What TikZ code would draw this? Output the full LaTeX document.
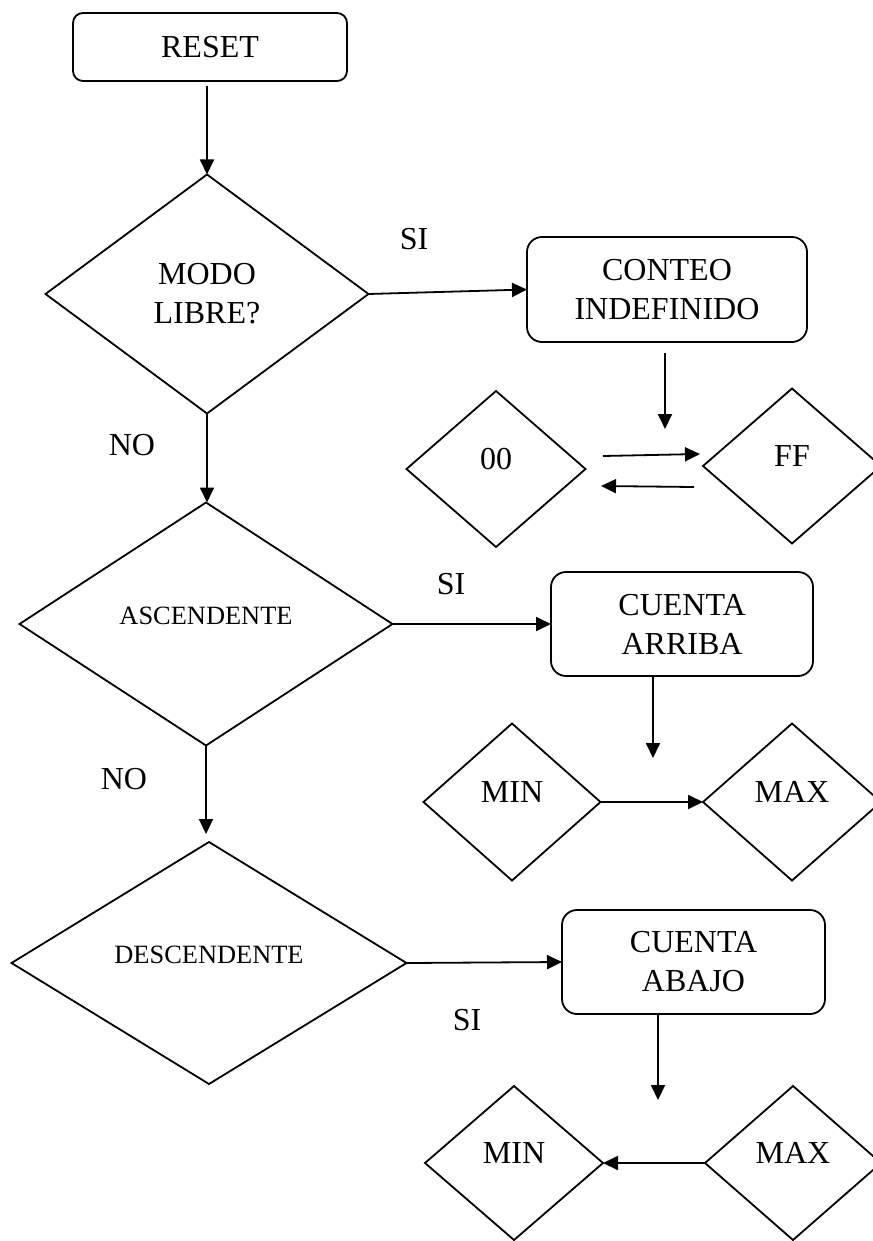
\documentclass[tikz,border=0pt]{standalone}
\usepackage{fontspec}
\setmainfont{Liberation Serif}
\usetikzlibrary{arrows.meta,shapes.geometric}

\begin{document}
\begin{tikzpicture}[x=0.5pt,y=-0.5pt,font=\fontsize{16pt}{19.5pt}\selectfont]
\tikzset{
  caja/.style={draw,line width=0.9pt,rounded corners=7.5pt,align=center,
    inner sep=0pt,outer sep=0pt},
  rombo/.style={draw,diamond,line width=0.9pt,inner sep=0pt,outer sep=0pt},
  plano/.style={text height=0pt,text depth=0pt},
  fl/.style={-{Triangle[length=7.5pt,width=7pt]},line width=0.9pt},
  etq/.style={inner sep=0pt}
}
\useasboundingbox (0,0) rectangle (872,1241);
\fill[white] (0,0) rectangle (872,1241);

% columna de decisiones
\node[caja,rounded corners=5pt,minimum width=137pt,minimum height=34pt] (reset) at (210,47) {RESET};
\node[rombo,align=center,minimum width=161.5pt,minimum height=119.5pt] (modo) at (207,294) {MODO\\LIBRE?};
\node[rombo,plano,font=\fontsize{13.2pt}{15pt}\selectfont,minimum width=186.5pt,minimum height=121.5pt] (asc) at (206,624) {ASCENDENTE};
\node[rombo,plano,font=\fontsize{13.2pt}{15pt}\selectfont,minimum width=197.5pt,minimum height=121pt] (desc) at (209,963) {DESCENDENTE};

% conteo libre
\node[caja,minimum width=140pt,minimum height=52.5pt] (conteo) at (667,289.5) {CONTEO\\INDEFINIDO};
\node[rombo,plano,minimum width=89.5pt,minimum height=78pt] (cero) at (496,469) {00};
\node[rombo,plano,minimum width=89pt,minimum height=77.5pt] (ff) at (792,466) {FF};

% cuenta arriba
\node[caja,minimum width=131pt,minimum height=52pt] (arriba) at (682,624) {CUENTA\\ARRIBA};
\node[rombo,plano,minimum width=88.5pt,minimum height=78.5pt] (min1) at (512,802) {MIN};
\node[rombo,plano,minimum width=89pt,minimum height=78.5pt] (max1) at (792,802) {MAX};

% cuenta abajo
\node[caja,minimum width=131.5pt,minimum height=52pt] (abajo) at (693.5,962) {CUENTA\\ABAJO};
\node[rombo,plano,minimum width=89pt,minimum height=77pt] (min2) at (514,1163) {MIN};
\node[rombo,plano,minimum width=88pt,minimum height=77pt] (max2) at (793,1163) {MAX};

% etiquetas
\node[etq] (si1) at (414,239) {SI};
\node[etq] (no1) at (132,445) {NO};
\node[etq] (si2) at (451,584) {SI};
\node[etq] (no2) at (124,779) {NO};
\node[etq] (si3) at (467,1020) {SI};

% extremos libres
\coordinate (c1) at (665,429);
\coordinate (c2) at (653,758);
\coordinate (c3) at (658,1100);
\coordinate (a1) at (603,456);
\coordinate (a2) at (700,454);
\coordinate (a3) at (694,487);
\coordinate (a4) at (601,486);

\draw[fl,shorten <=2.5pt] (reset.south -| modo.north) -- (modo.north);
\draw[fl] (modo.east) -- (conteo.west);
\draw[fl,shorten <=5.5pt] (conteo.south -| c1) -- (c1);
\draw[fl] (a1) -- (a2);
\draw[fl] (a3) -- (a4);
\draw[fl] (modo.south) -- (modo.south |- asc.north);
\draw[fl] (asc.east) -- (arriba.west);
\draw[fl] (arriba.south -| c2) -- (c2);
\draw[fl] (min1.east) -- (max1.west);
\draw[fl,shorten >=4pt] (asc.south) -- (asc.south |- desc.north);
\draw[fl] (desc.east) -- (abajo.west);
\draw[fl] (abajo.south -| c3) -- (c3);
\draw[fl] (max2.west) -- (min2.east);
\end{tikzpicture}
\end{document}
